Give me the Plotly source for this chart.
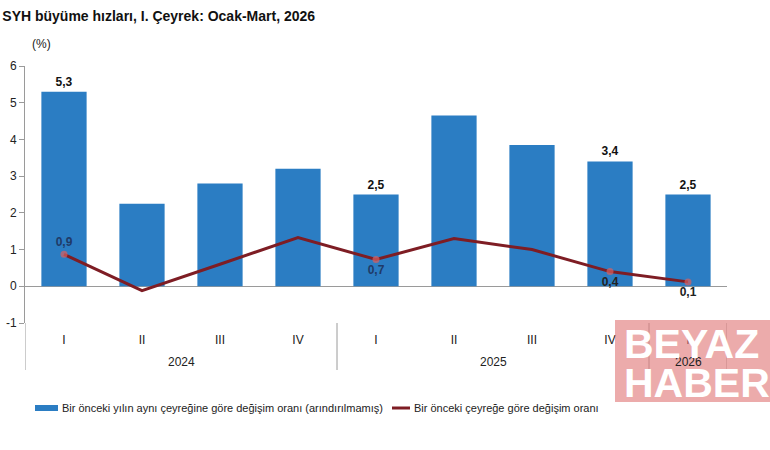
import plotly.graph_objects as go

years = ["2024", "2024", "2024", "2024", "2025", "2025", "2025", "2025", "2026"]
quarters = ["I", "II", "III", "IV", "I", "II", "III", "IV", "I"]
yoy = [5.3, 2.25, 2.8, 3.2, 2.5, 4.65, 3.85, 3.4, 2.5]
qoq = [0.87, -0.12, 0.6, 1.33, 0.73, 1.3, 1.0, 0.4, 0.12]
yoy_labels = ["5,3", "", "", "", "2,5", "", "", "3,4", "2,5"]
qoq_labels = ["0,9", "", "", "", "0,7", "", "", "0,4", "0,1"]
qoq_label_pos = ["top center", "bottom center", "bottom center", "bottom center", "bottom center",
                 "bottom center", "bottom center", "bottom center", "bottom center"]
qoq_label_colors = ["#1f3a68", "#1f3a68", "#1f3a68", "#1f3a68", "#1f3a68",
                    "#1f3a68", "#1f3a68", "#222222", "#222222"]
y_ticks = [-1, 0, 1, 2, 3, 4, 5, 6]
y_tick_text = ["-1", "0", "1", "2", "3", "4", "5", "6"]

name_bar = "Bir önceki yılın aynı çeyreğine göre değişim oranı (arındırılmamış)"
name_line = "Bir önceki çeyreğe göre değişim oranı"
title_text = "SYH büyüme hızları, I. Çeyrek: Ocak-Mart, 2026"

BASE_FONT = "Liberation Sans, Arial, sans-serif"
BAR_COLOR = "#2b7dc3"
LINE_COLOR = "#7e1d24"
AXIS_COLOR = "#9a9a9a"

# plot area in pixels: x 25..727, y 66..323
def px(xp):
    return (xp - 25) / 702.0

def py(yp):
    return (323 - yp) / 257.0

pos = list(range(len(quarters)))
marker_sizes = [7 if lab else 0 for lab in qoq_labels]

fig = go.Figure()
fig.add_trace(go.Bar(
    x=pos, y=yoy, name=name_bar, showlegend=False, width=0.58,
    marker=dict(color=BAR_COLOR, line=dict(width=0)),
    text=yoy_labels, textposition="outside", cliponaxis=False,
    textfont=dict(family=BASE_FONT, size=12, color="#111111", weight="bold"),
))
fig.add_trace(go.Scatter(
    x=pos, y=qoq, name=name_line, mode="lines+markers+text", showlegend=False,
    line=dict(color=LINE_COLOR, width=3),
    marker=dict(color="#d9605f", size=marker_sizes, line=dict(width=0)),
    text=qoq_labels, textposition=qoq_label_pos, cliponaxis=False,
    textfont=dict(family=BASE_FONT, size=12, color=qoq_label_colors, weight="bold"),
))

fig.update_layout(
    width=770, height=450,
    margin=dict(l=25, r=43, t=66, b=127),
    paper_bgcolor="white", plot_bgcolor="white",
    font=dict(family=BASE_FONT, size=12, color="#222222"),
    showlegend=False,
    xaxis=dict(range=[-0.5, len(pos) - 0.5], tickvals=pos, ticktext=quarters,
               showline=False, showgrid=False, zeroline=False, ticks="",
               ticklabelstandoff=8, automargin=False,
               tickfont=dict(family=BASE_FONT, size=12, color="#222222")),
    yaxis=dict(range=[-1, 6], tickvals=y_ticks, ticktext=y_tick_text, showgrid=False,
               showline=True, linecolor=AXIS_COLOR, linewidth=1,
               ticks="outside", ticklen=5, tickcolor=AXIS_COLOR, automargin=False,
               zeroline=True, zerolinecolor=AXIS_COLOR, zerolinewidth=1,
               tickfont=dict(family=BASE_FONT, size=12, color="#222222")),
    title=dict(text="<b>" + title_text + "</b>", x=0.003, xanchor="left", xref="container",
               y=0.965, yanchor="middle", yref="container",
               font=dict(family=BASE_FONT, size=14, color="#111111")),
)

# year group labels and dividers (derived from the category arrays)
groups = []
for i, yv in enumerate(years):
    if not groups or groups[-1][0] != yv:
        groups.append([yv, i, i])
    else:
        groups[-1][2] = i
boundaries = [groups[0][1] - 0.5] + [g[2] + 0.5 for g in groups]
for b in boundaries:
    fig.add_shape(type="line", xref="x", yref="paper", x0=b, x1=b, y0=0, y1=py(370),
                  line=dict(color=AXIS_COLOR, width=1))
for yv, i0, i1 in groups:
    fig.add_annotation(text=yv, xref="x", yref="paper", x=(i0 + i1) / 2, y=py(362),
                       showarrow=False, xanchor="center", yanchor="middle",
                       font=dict(family=BASE_FONT, size=12, color="#222222"))

fig.add_annotation(text="(%)", xref="paper", yref="paper", x=px(30), y=py(44),
                   showarrow=False, xanchor="left", yanchor="middle",
                   font=dict(family=BASE_FONT, size=12, color="#222222"))

# manual legend
fig.add_shape(type="rect", xref="paper", yref="paper", x0=px(35), x1=px(58), y0=py(405), y1=py(411),
              fillcolor=BAR_COLOR, line=dict(width=0))
fig.add_annotation(text=name_bar, xref="paper", yref="paper", x=px(60), y=py(408),
                   showarrow=False, xanchor="left", yanchor="middle",
                   font=dict(family=BASE_FONT, size=11, color="#222222"))
fig.add_shape(type="line", xref="paper", yref="paper", x0=px(392), x1=px(410), y0=py(408), y1=py(408),
              line=dict(color=LINE_COLOR, width=3))
fig.add_annotation(text=name_line, xref="paper", yref="paper", x=px(412), y=py(408),
                   showarrow=False, xanchor="left", yanchor="middle",
                   font=dict(family=BASE_FONT, size=11, color="#222222"))

# watermark
fig.add_shape(type="rect", xref="paper", yref="paper", x0=px(615), x1=px(775), y0=py(320), y1=py(402),
              fillcolor="rgba(225,120,120,0.62)", line=dict(width=0), layer="above")
fig.add_annotation(text="<b>BEYAZ</b>", xref="paper", yref="paper", x=px(622), y=py(344),
                   showarrow=False, xanchor="left", yanchor="middle",
                   font=dict(family=BASE_FONT, size=41, color="white"))
fig.add_annotation(text="<b>HABER</b>", xref="paper", yref="paper", x=px(622), y=py(383),
                   showarrow=False, xanchor="left", yanchor="middle",
                   font=dict(family=BASE_FONT, size=41, color="white"))

fig.write_html("out.html")
